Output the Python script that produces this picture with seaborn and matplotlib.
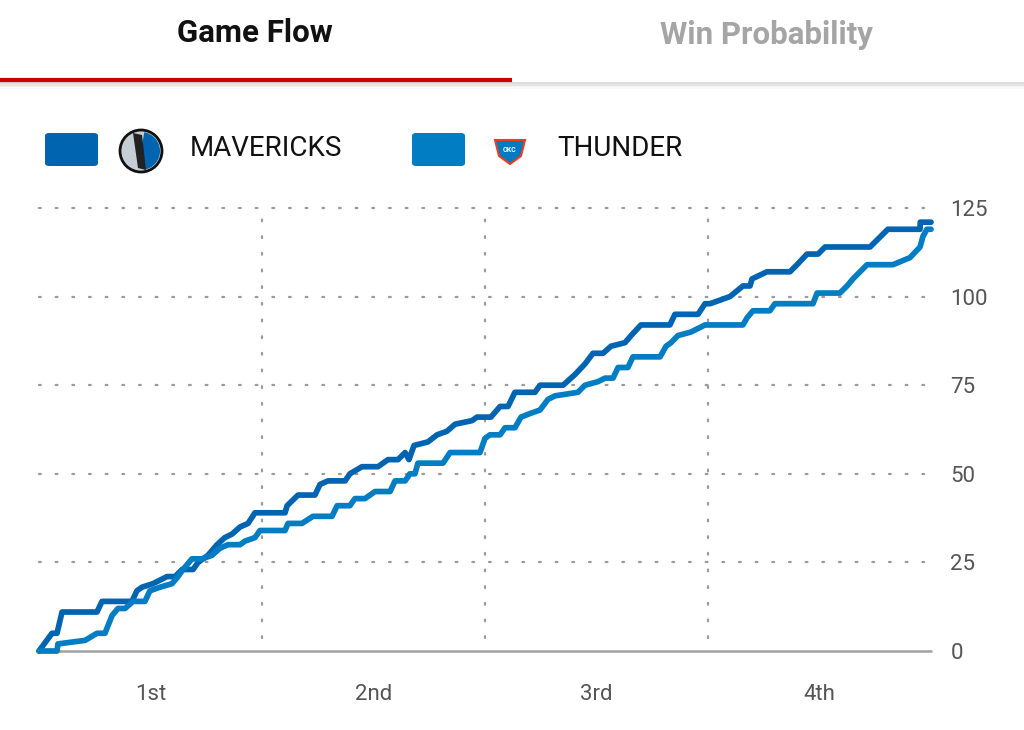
"""
Game flow chart: running score of Mavericks vs Thunder over 48 minutes.
"""

import matplotlib
matplotlib.use("Agg")
import matplotlib.pyplot as plt
from matplotlib.patches import FancyBboxPatch, Circle, Wedge, Polygon
import pandas as pd
import seaborn as sns

# Data (game minute, score)
mavs_minutes = [0, 0.7, 0.97, 1.24, 1.56, 3.12, 3.39, 5.0, 5.27, 5.54, 6.13, 6.89,
                7.32, 7.70, 8.29, 8.56, 9.09, 9.58, 10.0, 10.39, 10.82, 11.25, 11.62,
                13.24, 13.35, 13.94, 14.85, 15.12, 15.55, 16.47, 16.73, 17.38, 18.24,
                18.78, 19.32, 19.70, 19.91, 20.18, 20.93, 21.42, 21.95, 22.39, 23.30,
                23.57, 24.32, 24.81, 25.24, 25.61, 26.69, 26.96, 28.20, 28.84, 29.38,
                29.81, 30.35, 30.78, 31.53, 31.86, 32.39, 33.95, 34.22, 35.46, 35.84,
                36.11, 37.18, 37.88, 38.26, 38.37, 39.17, 40.41, 40.79, 41.33, 41.92,
                42.30, 44.72, 45.68, 47.41, 47.42, 48]
mavs_scores = [0, 5, 5, 11, 11, 11, 14, 14, 17, 18, 19, 21,
               21, 23, 23, 25, 27, 30, 32, 33, 35, 36, 39,
               39, 41, 44, 44, 47, 48, 48, 50, 52, 52,
               54, 54, 56, 54, 58, 59, 61, 62, 64, 65,
               66, 66, 69, 69, 73, 73, 75, 75, 78, 81,
               84, 84, 86, 87, 89, 92, 92, 95, 95, 98,
               98, 100, 103, 103, 105, 107, 107, 109, 112, 112,
               114, 114, 119, 119, 121, 121]

okc_minutes = [0, 0.97, 1.02, 2.48, 3.12, 3.55, 3.93, 4.25, 4.63, 5.06, 5.70, 5.97,
               6.51, 7.16, 7.48, 7.75, 8.23, 8.77, 9.31, 9.74, 10.17, 10.82, 11.08,
               11.62, 11.89, 13.24, 13.40, 14.15, 14.74, 15.77, 16.04, 16.73, 17.00,
               17.54, 18.08, 18.89, 19.16, 19.70, 19.96, 20.23, 20.39, 21.74, 22.12,
               23.73, 24.00, 24.27, 24.81, 25.08, 25.61, 25.94, 26.42, 26.96, 27.39,
               27.77, 29.00, 29.38, 30.08, 30.46, 30.89, 31.16, 31.69, 31.96, 33.42,
               33.74, 34.01, 34.38, 35.08, 35.84, 37.88, 38.10, 38.42, 39.33, 39.60,
               41.65, 41.87, 43.10, 43.48, 43.80, 44.56, 45.95, 46.87, 47.41, 47.57,
               47.78, 48]
okc_scores = [0, 0, 2, 3, 5, 5, 10, 12, 12, 14, 14, 17,
              18, 19, 21, 23, 26, 26, 27, 29, 30, 30, 31,
              32, 34, 34, 36, 36, 38, 38, 41, 41, 43,
              43, 45, 45, 48, 48, 50, 50, 53, 53, 56,
              56, 60, 61, 61, 63, 63, 66, 67, 68, 71,
              72, 73, 75, 76, 77, 77, 80, 80, 83, 83,
              86, 87, 89, 90, 92, 92, 94, 96, 96, 98,
              98, 101, 101, 103, 105, 109, 109, 111, 114, 117,
              119, 119]

teams = ["MAVERICKS", "THUNDER"]
team_colors = ["#0064B1", "#007DC3"]
quarters = ["1st", "2nd", "3rd", "4th"]
quarter_mid = [6, 18, 30, 42]
quarter_breaks = [12, 24, 36]
y_ticks = [0, 25, 50, 75, 100, 125]

W, H = 1024, 730

sns.set_theme(style="white")
plt.rcParams["font.family"] = ["Roboto", "DejaVu Sans"]

fig = plt.figure(figsize=(W / 100, H / 100), dpi=100)
fig.patch.set_facecolor("white")


def fx(px):
    return px / W


def fy(py):
    return 1 - py / H


# --- tab header
fig.text(fx(255), fy(33), "Game Flow", ha="center", va="center",
         fontsize=22.5, fontweight="bold", color="#111111")
fig.text(fx(767), fy(35), "Win Probability", ha="center", va="center",
         fontsize=22.5, fontweight="bold", color="#A5A5A5")
for i, a in enumerate([0.35, 0.2, 0.1, 0.05]):
    fig.add_artist(plt.Line2D([0, 1], [fy(83 + i * 1.5)] * 2, color="#888888",
                              alpha=a, lw=1.2, transform=fig.transFigure))
fig.add_artist(plt.Line2D([0, fx(512)], [fy(80)] * 2, color="#CC0000", lw=3,
                          transform=fig.transFigure, solid_capstyle="butt"))

# --- legend
legend_x = [45, 412]
for lx, name, col in zip(legend_x, teams, team_colors):
    fig.add_artist(FancyBboxPatch((fx(lx), fy(166)), fx(53), 33 / H,
                                  boxstyle="round,pad=0,rounding_size=0.004",
                                  facecolor=col, edgecolor="none",
                                  transform=fig.transFigure))
    fig.text(fx(lx + 145), fy(149), name, ha="left", va="center",
             fontsize=20, color="#111111")

# simple team marks in place of the logos
logo_ax = fig.add_axes([0, 0, 1, 1], facecolor="none")
logo_ax.set_xlim(0, W)
logo_ax.set_ylim(H, 0)
logo_ax.set_axis_off()
logo_ax.set_aspect("equal")
logo_ax.add_patch(Circle((141, 151), 21, facecolor="#C4CED4", edgecolor="#111111", lw=2))
logo_ax.add_patch(Wedge((141, 151), 19, -80, 80, facecolor="#0064B1", edgecolor="none"))
logo_ax.add_patch(Polygon([[133, 133], [138, 168], [146, 170], [142, 135]],
                          facecolor="#222222", edgecolor="none"))
logo_ax.add_patch(Polygon([[495, 140], [525, 140], [521, 156], [510, 164], [499, 156]],
                          facecolor="#007AC1", edgecolor="#EF3B24", lw=1.5))
logo_ax.text(510, 150, "OKC", ha="center", va="center", fontsize=5,
             color="white", fontweight="bold")

# --- main chart
ax = fig.add_axes([fx(39), 79 / H, fx(892), 443 / H], facecolor="none")

flow = pd.concat([
    pd.DataFrame({"minute": mavs_minutes, "score": mavs_scores, "team": teams[0]}),
    pd.DataFrame({"minute": okc_minutes, "score": okc_scores, "team": teams[1]}),
], ignore_index=True)

for y in y_ticks[1:]:
    ax.axhline(y, color="#9A9A9A", lw=1.6, ls=(0, (0.8, 6.7)),
               dash_capstyle="round", zorder=0)
for x in quarter_breaks:
    ax.axvline(x, ymin=0.03, ymax=1, color="#9A9A9A", lw=1.6,
               ls=(0, (0.8, 6.7)), dash_capstyle="round", zorder=0)
ax.axhline(0, color="#A0A0A0", lw=1.8, zorder=1)

sns.lineplot(data=flow, x="minute", y="score", hue="team",
             palette=dict(zip(teams, team_colors)), estimator=None, sort=False,
             lw=4.1, legend=False, ax=ax, zorder=3)
for line in ax.get_lines():
    line.set_solid_joinstyle("round")
    line.set_clip_on(False)

ax.set_xlim(0, 48)
ax.set_ylim(0, 125)
ax.set_xlabel("")
ax.set_ylabel("")
for s in ax.spines.values():
    s.set_visible(False)

ax.yaxis.tick_right()
ax.set_yticks(y_ticks)
ax.set_xticks(quarter_mid)
ax.set_xticklabels(quarters)
ax.tick_params(axis="y", length=0, pad=14, labelsize=16, labelcolor="#555555")
ax.tick_params(axis="x", length=0, pad=24, labelsize=16, labelcolor="#555555")
ax.grid(False)

fig.savefig("out.png", dpi=100, facecolor="white")
